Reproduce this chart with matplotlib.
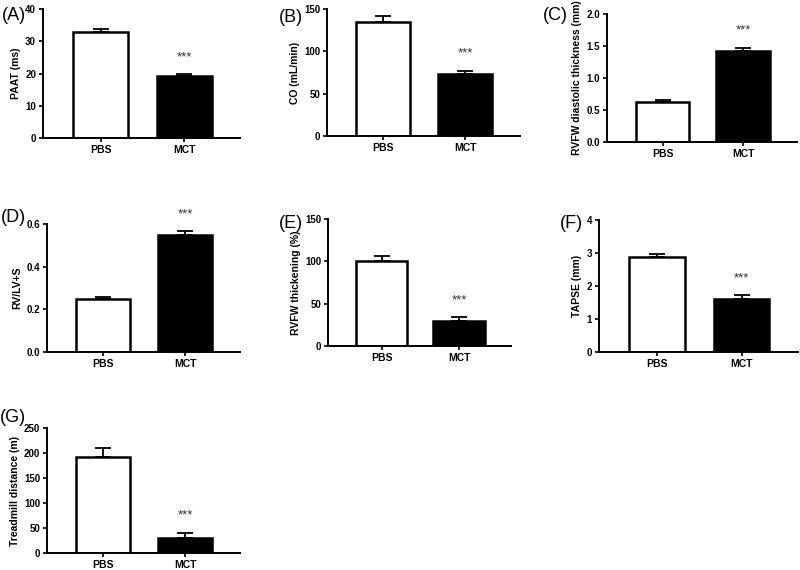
import numpy as np
import matplotlib.pyplot as plt

plt.rcParams['font.family'] = ['Liberation Sans', 'DejaVu Sans']

groups = ['PBS', 'MCT']
panels = ['(A)', '(B)', '(C)', '(D)', '(E)', '(F)', '(G)']
ylabels = ['PAAT (ms)', 'CO (mL/min)', 'RVFW diastolic thickness (mm)',
           'RV/LV+S', 'RVFW thickening (%)', 'TAPSE (mm)',
           'Treadmill distance (m)']
means = [[33.0, 19.2], [135, 73], [0.62, 1.42], [0.25, 0.55],
         [100, 30], [2.87, 1.62], [192, 31]]
sems = [[0.9, 0.6], [7, 4], [0.03, 0.05], [0.01, 0.015],
        [6, 4], [0.10, 0.10], [18, 9]]
yticks = [[0, 10, 20, 30, 40], [0, 50, 100, 150],
          [0.0, 0.5, 1.0, 1.5, 2.0], [0.0, 0.2, 0.4, 0.6],
          [0, 50, 100, 150], [0, 1, 2, 3, 4],
          [0, 50, 100, 150, 200, 250]]
ytick_fmt = ['%d', '%d', '%.1f', '%.1f', '%d', '%d', '%d']

# axes boxes in pixels: left, right, top, bottom
boxes = [(43, 240, 9, 138), (327, 520, 9, 136), (607, 797, 14, 142),
         (47, 240, 224, 352), (328, 511, 219, 346), (599, 798, 220, 352),
         (47, 240, 428, 553)]
label_pos = [(26, 15), (303, 17), (568, 15), (26, 217), (303, 223),
             (583, 223), (26, 418)]

W, H = 800, 570
fig = plt.figure(figsize=(W / 100, H / 100), dpi=100)

for i in range(7):
    l, r, t, b = boxes[i]
    ax = fig.add_axes([l / W, 1 - b / H, (r - l) / W, (b - t) / H])
    x = np.arange(2)
    ax.bar(x, means[i], width=0.66, color=['white', 'black'],
           edgecolor='black', linewidth=1.8, zorder=2)
    ax.errorbar(x, means[i], yerr=[[0, 0], sems[i]], fmt='none',
                ecolor='black', elinewidth=1.3, capsize=6, capthick=1.3,
                zorder=3)
    ax.annotate('***', (1, means[i][1] + sems[i][1]), xytext=(0, 8),
                textcoords='offset points', ha='center', va='bottom',
                fontsize=9.5, color='#333333')
    ax.set_xlim(-0.69, 1.67)
    ax.set_ylim(yticks[i][0], yticks[i][-1])
    ax.set_yticks(yticks[i])
    ax.set_yticklabels([ytick_fmt[i] % v for v in yticks[i]],
                       fontsize=7, fontweight='bold')
    ax.set_xticks(x)
    ax.set_xticklabels(groups, fontsize=7.5, fontweight='bold')
    ax.set_ylabel(ylabels[i], fontsize=7.5, fontweight='bold', labelpad=3)
    for s in ['top', 'right']:
        ax.spines[s].set_visible(False)
    for s in ['left', 'bottom']:
        ax.spines[s].set_linewidth(1.4)
    ax.tick_params(direction='out', length=3, width=1.2, pad=2)
    fig.text(label_pos[i][0] / W, 1 - label_pos[i][1] / H, panels[i],
             ha='right', va='center', fontsize=13)

fig.savefig('out.png', dpi=100)
